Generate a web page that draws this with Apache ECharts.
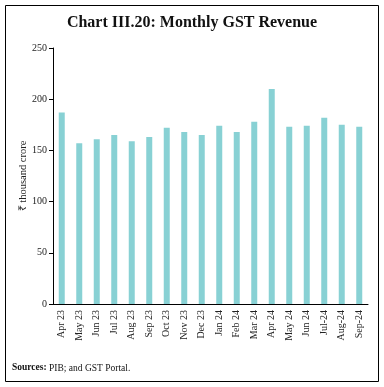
<!DOCTYPE html>
<html><head><meta charset="utf-8">
<script src="https://cdn.jsdelivr.net/npm/echarts@6/dist/echarts.min.js"></script>
<style>html,body{margin:0;padding:0;background:#fff}#c{width:384px;height:387px}</style>
</head><body><div id="c"></div>
<script>
const categories = ["Apr 23","May 23","Jun 23","Jul 23","Aug 23","Sep 23","Oct 23","Nov 23","Dec 23","Jan 24","Feb 24","Mar 24","Apr 24","May 24","Jun 24","Jul-24","Aug-24","Sep-24"];
const gstRevenue = [187, 157, 161, 165, 159, 163, 172, 168, 165, 174, 168, 178, 210, 173, 174, 182, 175, 173];
const yTicks = [0, 50, 100, 150, 200, 250];

const serif = "Liberation Serif";
const chart = echarts.init(document.getElementById('c'), null, {renderer: 'canvas'});
chart.setOption({
  animation: false,
  backgroundColor: '#fff',
  title: {
    text: 'Chart III.20: Monthly GST Revenue',
    left: 'center', top: 10,
    textStyle: {fontFamily: serif, fontWeight: 'bold', fontSize: 16, color: '#111'}
  },
  grid: {left: 53, right: 16, top: 48, bottom: 83},
  xAxis: {
    type: 'category', data: categories,
    axisLine: {lineStyle: {color: '#000', width: 1}},
    axisTick: {alignWithLabel: true, length: 4, lineStyle: {color: '#000'}},
    axisLabel: {rotate: 90, fontFamily: serif, fontSize: 10, color: '#222', margin: 6}
  },
  yAxis: {
    type: 'value', min: yTicks[0], max: yTicks[yTicks.length-1], interval: 50,
    name: '₹ thousand crore', nameLocation: 'middle', nameGap: 24, nameMoveOverlap: false,
    nameTextStyle: {fontFamily: serif, fontSize: 10.5, color: '#222'},
    axisLine: {show: true, lineStyle: {color: '#000', width: 1}},
    axisTick: {show: true, length: 4, lineStyle: {color: '#000'}},
    splitLine: {show: false},
    axisLabel: {fontFamily: serif, fontSize: 10, color: '#222', margin: 6}
  },
  series: [{
    type: 'bar', data: gstRevenue, barWidth: 6,
    itemStyle: {color: '#88d1d4'}
  }],
  graphic: [
    {type: 'rect', shape: {x: 5.5, y: 5.5, width: 373, height: 376}, style: {fill: 'none', stroke: '#000', lineWidth: 1}, silent: true},
    {type: 'text', left: 12, top: 363, style: {
      text: '{b|Sources:} PIB; and GST Portal.',
      rich: {b: {fontFamily: serif, fontWeight: 'bold', fontSize: 9.5, fill: '#111'}},
      font: '9.5px "Liberation Serif"', fill: '#111'
    }}
  ]
});
</script></body></html>
